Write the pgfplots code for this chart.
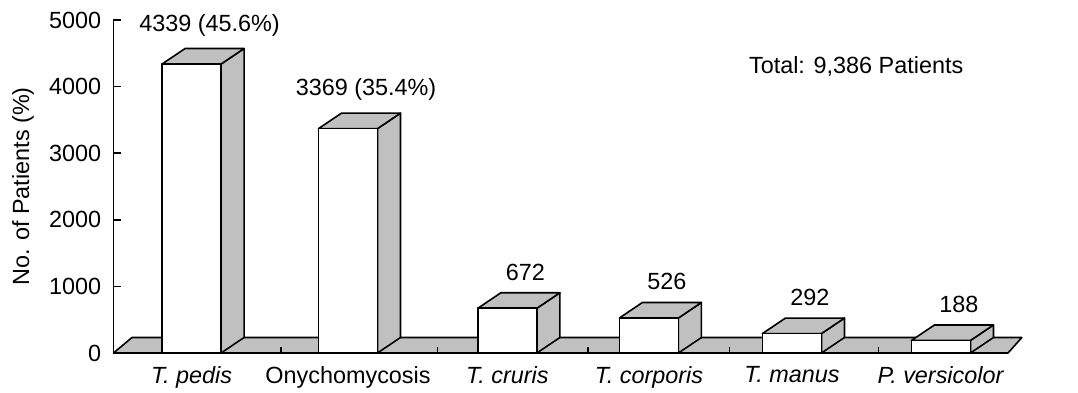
\documentclass[border=0pt]{standalone}
\usepackage{pgfplots}
\usepackage{pgfplotstable}
\pgfplotsset{compat=1.18}
\usepackage{fontspec}
\setmainfont{Liberation Sans}

\definecolor{barside}{RGB}{192,192,192}
% an empty plot mark: the 3D bars are drawn by the scatter marker code
\pgfdeclareplotmark{blank}{}

% patients per diagnosis (x = bar position), with the share of the total (0 = not printed)
\pgfplotstableread{
x n pct
-0.05 4339 45.6
1.00 3369 35.4
2.07 672 0
3.02 526 0
3.98 292 0
4.98 188 0
}\patients

\begin{document}
\begin{tikzpicture}[font=\fontsize{11.7}{14}\selectfont]
\useasboundingbox (-56.75pt,-19.5pt) rectangle (482.25pt,176.5pt);
\begin{axis}[
  scale only axis, width=447.25pt, height=166.5pt,
  xmin=-0.574, xmax=5.43, ymin=0, ymax=5000,
  clip=false, axis on top,
  axis lines*=left,
  axis line style={line width=0.8pt, black},
  ytick={0,1000,...,5000},
  xtick={-0.05,1.00,2.07,3.02,3.98,4.98},
  xticklabels={\textit{T. pedis}, Onychomycosis, \textit{T. cruris}, \textit{T. corporis}, \textit{T. manus}, \textit{P. versicolor}},
  xtick style={draw=none},
  ytick style={line width=0.8pt, black},
  tick align=inside, major tick length=4pt,
  /pgf/number format/1000 sep={},
  /pgf/number format/assume math mode=true,
  tick label style={font=\fontsize{11.7}{14}\selectfont},
  xticklabel style={yshift=-3pt},
  yticklabel style={xshift=-2.6pt},
  ylabel={No. of Patients (\%)},
  every axis y label/.style={at={(axis description cs:-0.1012,0.5)}, rotate=90, anchor=center, font=\fontsize{11.7}{14}\selectfont},
]

% floor of the 3D chart
\addplot[fill=barside, draw=black, line width=0.8pt, line join=round, mark=none]
  coordinates {(-0.574,0) (-0.4497,232.7) (5.523,232.7) (5.43,0)} -- cycle;

% small separators on the front edge of the floor
\addplot[ycomb, draw=black, line width=0.8pt, mark=none]
  coordinates {(0.55,90) (1.60,90) (2.61,90) (3.56,90) (4.56,90)};

% 3D bars: side face, top face, front face and value label
\addplot[only marks, mark=blank, scatter,
  visualization depends on={rawy \as \barval},
  visualization depends on={\thisrow{pct} \as \barpct},
  scatter/@pre marker code/.code={%
    \coordinate (barbase) at (axis direction cs:0,-\barval);
    \filldraw[fill=barside, draw=black, line width=0.8pt, line join=round]
      (14.75pt,0pt) -- ([xshift=14.75pt]barbase) -- ([xshift=26.25pt,yshift=7.75pt]barbase)
      -- (26.25pt,7.75pt) -- cycle;
    \filldraw[fill=barside, draw=black, line width=0.8pt, line join=round]
      (-14.75pt,0pt) -- (14.75pt,0pt) -- (26.25pt,7.75pt) -- (-3.25pt,7.75pt) -- cycle;
    \filldraw[fill=white, draw=black, line width=0.8pt, line join=round]
      ([xshift=-14.75pt]barbase) rectangle (14.75pt,0pt);
    \node[anchor=south, inner sep=0pt, font=\fontsize{11.7}{14}\selectfont]
      at (9pt,13.75pt) {\pgfmathprintnumber{\barval}\ifdim\barpct pt>0pt\ (\pgfmathprintnumber[fixed,precision=1,fixed zerofill]{\barpct}\%)\fi};
  },
  scatter/@post marker code/.code={},
] table[x=x, y=n] {\patients};

\node[anchor=base west, font=\fontsize{11.7}{14}\selectfont]
  at (axis description cs:0.7026,0.8408) {Total: 9,386 Patients};
\end{axis}
\end{tikzpicture}
\end{document}
